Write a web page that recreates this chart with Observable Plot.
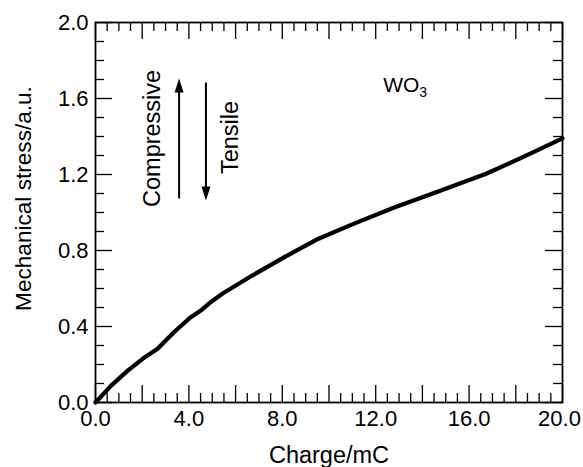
<!DOCTYPE html>
<html><head><meta charset="utf-8">
<script src="https://cdn.jsdelivr.net/npm/d3@7"></script>
<script src="https://cdn.jsdelivr.net/npm/@observablehq/plot@0.6"></script>
<style>body{margin:0;background:#fff} svg{display:block}</style>
</head><body><div id="chart"></div>
<script>
// Data
const charge = [0, 0.67, 1.38, 2.02, 2.66, 3.08, 3.44, 4.08, 4.51, 4.93, 5.43, 6.71, 8.13, 9.55, 10.97, 12.82, 14.59, 16.73, 18.3, 20.0];
const stress = [0, 0.089, 0.168, 0.23, 0.283, 0.335, 0.379, 0.449, 0.484, 0.528, 0.572, 0.668, 0.768, 0.862, 0.936, 1.028, 1.107, 1.204, 1.291, 1.39];
const xTickLabels = [0, 4, 8, 12, 16, 20];
const yTickLabels = [0, 0.4, 0.8, 1.2, 1.6, 2.0];
const xTitle = "Charge/mC";
const yTitle = "Mechanical stress/a.u.";
const sampleLabel = "WO3";
const compressiveLabel = "Compressive";
const tensileLabel = "Tensile";

const width = 583, height = 467;
const mL = 95, mR = 21, mT = 22, mB = 65;
const W = width - mL - mR, H = height - mT - mB;
const majLen = 17, minLen = 9;

const isMult = (v, s) => Math.abs(v / s - Math.round(v / s)) < 1e-6;
const xMajor = d3.range(0, 20.001, 2);
const xMinor = d3.range(0, 20.001, 0.5).filter(v => !isMult(v, 2));
const yMajor = d3.range(0, 2.001, 0.4);
const yMinor = d3.range(0, 2.001, 0.1).filter(v => !isMult(v, 0.4));

const rows = charge.map((c, i) => ({charge: c, stress: stress[i]}));

const headUp = {draw(ctx) { ctx.moveTo(0, 0); ctx.lineTo(-4.5, 14); ctx.lineTo(4.5, 14); ctx.closePath(); }};
const headDown = {draw(ctx) { ctx.moveTo(0, 0); ctx.lineTo(-4.5, -14); ctx.lineTo(4.5, -14); ctx.closePath(); }};

const font = "'Liberation Sans', Arial, Helvetica, sans-serif";
const tk = {stroke: "black", strokeWidth: 1.3};
const fmt = d => d.toFixed(1);

const chart = Plot.plot({
  width, height,
  marginLeft: mL, marginRight: mR, marginTop: mT, marginBottom: mB,
  style: {fontFamily: font, fontSize: "22px", color: "black", background: "white"},
  x: {domain: [0, 20]},
  y: {domain: [0, 2]},
  marks: [
    Plot.axisX({ticks: xTickLabels.slice(0, -1), tickSize: 0, tickPadding: 8, tickFormat: fmt, label: null, fontSize: 22}),
    Plot.axisX({ticks: xTickLabels.slice(-1), tickSize: 0, tickPadding: 8, tickFormat: fmt, label: null, fontSize: 22, dx: -3}),
    Plot.axisY({ticks: yTickLabels, tickSize: 0, tickPadding: 7, tickFormat: fmt, label: null, fontSize: 22}),
    // inward ticks on four sides
    Plot.tickX(xMajor, {x: d => d, insetTop: H - majLen, ...tk}),
    Plot.tickX(xMinor, {x: d => d, insetTop: H - minLen, ...tk}),
    Plot.tickX(xMajor, {x: d => d, insetBottom: H - majLen, ...tk}),
    Plot.tickX(xMinor, {x: d => d, insetBottom: H - minLen, ...tk}),
    Plot.tickY(yMajor, {y: d => d, insetRight: W - majLen, ...tk}),
    Plot.tickY(yMinor, {y: d => d, insetRight: W - minLen, ...tk}),
    Plot.tickY(yMajor, {y: d => d, insetLeft: W - majLen, ...tk}),
    Plot.tickY(yMinor, {y: d => d, insetLeft: W - minLen, ...tk}),
    Plot.frame({stroke: "black", strokeWidth: 1.8}),
    Plot.line(rows, {x: "charge", y: "stress", stroke: "black", strokeWidth: 4.2, curve: "linear", strokeLinecap: "round", strokeLinejoin: "round"}),
    // arrows
    Plot.link([{x: 3.58, y1: 1.074, y2: 1.66}], {x1: "x", x2: "x", y1: "y1", y2: "y2", stroke: "black", strokeWidth: 2}),
    Plot.dot([{x: 3.58, y: 1.705}], {x: "x", y: "y", symbol: headUp, r: 5, fill: "black", stroke: "none"}),
    Plot.link([{x: 4.73, y1: 1.684, y2: 1.10}], {x1: "x", x2: "x", y1: "y1", y2: "y2", stroke: "black", strokeWidth: 2}),
    Plot.dot([{x: 4.73, y: 1.063}], {x: "x", y: "y", symbol: headDown, r: 5, fill: "black", stroke: "none"}),
    Plot.text([{t: compressiveLabel, x: 2.43, y: 1.39}], {x: "x", y: "y", text: "t", rotate: -90, fontSize: 23.5, fill: "black"}),
    Plot.text([{t: tensileLabel, x: 5.76, y: 1.395}], {x: "x", y: "y", text: "t", rotate: -90, fontSize: 23.5, fill: "black"}),
    Plot.text([{t: sampleLabel, x: 12.32, y: 1.671}], {x: "x", y: "y", text: "t", textAnchor: "start", fontSize: 21, fill: "black"}),
    // axis titles
    Plot.text([xTitle], {frameAnchor: "bottom", textAnchor: "middle", lineAnchor: "middle", dy: 53, fontSize: 23.5, fill: "black"}),
    Plot.text([yTitle], {frameAnchor: "left", textAnchor: "middle", lineAnchor: "middle", dx: -72, dy: -14, rotate: -90, fontSize: 22.6, fill: "black"})
  ]
});

// subscript in WO3
chart.querySelectorAll("text").forEach(t => {
  if (t.textContent === sampleLabel) {
    t.textContent = "";
    const ns = "http://www.w3.org/2000/svg";
    const a = document.createElementNS(ns, "tspan"); a.textContent = "WO";
    const b = document.createElementNS(ns, "tspan"); b.textContent = "3";
    b.setAttribute("font-size", "14"); b.setAttribute("dy", "5");
    t.appendChild(a); t.appendChild(b);
  }
});
document.getElementById("chart").appendChild(chart);
</script>
</body></html>
